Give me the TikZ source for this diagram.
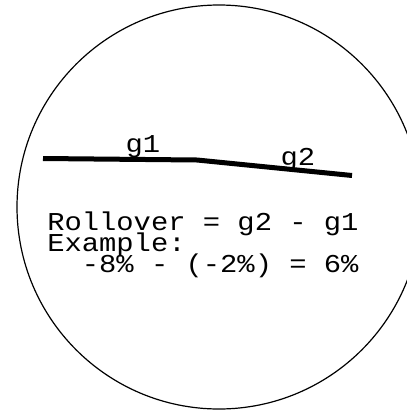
\documentclass[tikz,border=0pt]{standalone}
\usepackage{fontspec}
\usepackage{tikz}
\newfontfamily\cadfont[FakeStretch=1.12]{Liberation Mono}
\definecolor{cad_black}{RGB}{0,0,0}
\tikzset{
  cadtext/.style={font=\cadfont\fontsize{19.3pt}{23pt}\selectfont, inner sep=0pt,
    text height=12.5pt, text depth=2.5pt, cad_black},
  gradeline/.style={cad_black, line width=3.75pt},
}

\begin{document}
\begin{tikzpicture}[x=0.75pt, y=-0.75pt]
        \useasboundingbox (0,0) rectangle (407,411);
        \draw[cad_black, line width=0.9pt] (219,207) circle[radius=202];
        \coordinate (g1start) at (43,158.5);
        \coordinate (pvi) at (197,160);
        \coordinate (g2end) at (352,175.5);
        \draw[gradeline] (g1start) -- (pvi) -- (g2end);
        \node[cadtext, anchor=base, text depth=0pt] (lblgone) at (143,152) {g1};
        \node[cadtext, anchor=base, text depth=0pt] (lblgtwo) at (298,165) {g2};
        \node[cadtext, anchor=base west] (rollover) at (47,230) {Rollover = g2 - g1};
        \node[cadtext, anchor=base west] (example) at (47,251) {Example:};
        \node[cadtext, anchor=base west] (calc) at (47,272) {~~-8\% - (-2\%) = 6\%};
      \end{tikzpicture}
\end{document}
